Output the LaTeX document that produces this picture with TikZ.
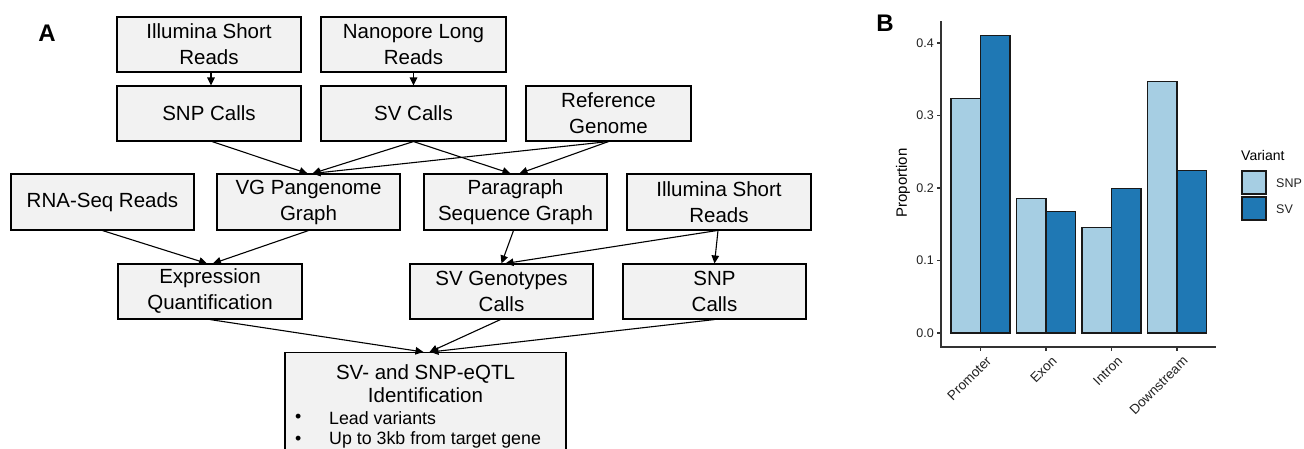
\documentclass[tikz,border=0pt]{standalone}
\usepackage{fontspec}
\setmainfont{Liberation Sans}
\usetikzlibrary{arrows.meta}
\definecolor{boxfill}{HTML}{F2F2F2}
\definecolor{snpc}{HTML}{A6CEE3}
\definecolor{svc}{HTML}{1F78B4}
\definecolor{axc}{HTML}{333333}
\definecolor{txc}{HTML}{222222}
\begin{document}
\begin{tikzpicture}[x=1pt,y=-1pt,
  flowbox/.style={draw=black, line width=1.1pt, fill=boxfill, inner sep=0pt, align=center,
    minimum width=184pt, minimum height=55pt, font=\fontsize{20.5}{26}\selectfont},
  conn/.style={line width=1.1pt, -{Triangle[length=8pt,width=7.5pt]}},
  bartile/.style={draw=black!90, line width=1.2pt},
  axline/.style={draw=axc, line width=1.3pt},
  ticklab/.style={font=\fontsize{12.5}{14}\selectfont, text=txc, inner sep=0pt},
  panlab/.style={font=\fontsize{24}{28}\selectfont\bfseries, inner sep=0pt},
  bodytext/.style={font=\fontsize{20.5}{23}\selectfont, inner sep=0pt, align=center},
  bullettext/.style={font=\fontsize{17.8}{22}\selectfont, inner sep=0pt, anchor=west}
]
\clip (0,0) rectangle (1304,448);
\fill[white] (0,0) rectangle (1304,448);

% ---------------- Panel A ----------------
\node[panlab] (labA) at (47,33) {A};

\node[flowbox] (ill1) at (209,44.5) {Illumina Short\\Reads};
\node[flowbox, minimum width=185pt] (nano) at (413.5,44.5) {Nanopore Long\\Reads};
\node[flowbox] (snp1) at (209,113.5) {SNP Calls};
\node[flowbox, minimum width=185pt] (sv1) at (413.5,113.5) {SV Calls};
\node[flowbox, minimum width=165pt] (ref) at (608.5,113.5) {Reference\\Genome};

\node[flowbox, minimum width=183pt, minimum height=56pt] (rna) at (102.5,202) {RNA-Seq Reads};
\node[flowbox, minimum width=183pt, minimum height=56pt] (vg) at (308.5,202) {VG Pangenome\\Graph};
\node[flowbox, minimum width=183pt, minimum height=56pt] (para) at (515.5,202) {Paragraph\\Sequence Graph};
\node[flowbox, minimum height=56pt] (ill2) at (719,202) {Illumina Short\\Reads};

\node[flowbox] (expr) at (210,291.5) {Expression\\Quantification};
\node[flowbox, minimum width=183pt] (svg) at (501.5,291.5) {SV Genotypes\\Calls};
\node[flowbox, minimum width=183pt] (snp2) at (714.5,291.5) {SNP\\Calls};

\node[flowbox, anchor=north, minimum width=281pt, minimum height=130pt] (eqtl) at (425.5,352) {};
\node[bodytext] (eqtlT) at (425.5,383.5) {SV- and SNP-eQTL\\Identification};
\node[bullettext] (bul1) at (295,418) {•};
\node[bullettext] (it1) at (329,418) {Lead variants};
\node[bullettext] (bul2) at (295,440) {•};
\node[bullettext] (it2) at (329,440) {Up to 3kb from target gene};

\draw[conn] ([xshift=2pt]ill1.south) -- ([xshift=2pt]snp1.north);
\draw[conn] (nano.south) -- (sv1.north);
\draw[conn] ([xshift=3pt]snp1.south) -- ([xshift=-1pt]vg.north);
\draw[conn] (sv1.south) -- ([xshift=4pt]vg.north);
\draw[conn] (ref.south) -- ([xshift=4pt]vg.north);
\draw[conn] (sv1.south) -- ([xshift=-5pt]para.north);
\draw[conn] (ref.south) -- ([xshift=4pt]para.north);
\draw[conn] (rna.south) -- ([xshift=-3pt]expr.north);
\draw[conn] (vg.south) -- ([xshift=3pt]expr.north);
\draw[conn] ([xshift=-2pt]para.south) -- ([xshift=0pt]svg.north);
\draw[conn] ([xshift=-2pt]ill2.south) -- ([xshift=4pt]svg.north);
\draw[conn] ([xshift=-1pt]ill2.south) -- ([xshift=0pt]snp2.north);
\draw[conn] (expr.south) -- ([xshift=-2pt]eqtl.north);
\draw[conn] ([xshift=-1pt]svg.south) -- ([xshift=4pt]eqtl.north);
\draw[conn] (snp2.south) -- ([xshift=5pt]eqtl.north);

% ---------------- Panel B ----------------
\node[panlab] (labB) at (885,23) {B};

% bars
\foreach \c/\a/\b in {980.5/0.324/0.410, 1046/0.185/0.168, 1111.5/0.145/0.199, 1177/0.347/0.224}{
  \draw[bartile, fill=snpc] ({\c-29.5},333) rectangle (\c,{333-725*\a});
  \draw[bartile, fill=svc] (\c,333) rectangle ({\c+29.5},{333-725*\b});
}

% axes
\draw[axline] (941,21) -- (941,347.6);
\draw[axline] (940.4,347) -- (1216,347);
\foreach \v/\t in {0/0.0,1/0.1,2/0.2,3/0.3,4/0.4}{
  \draw[axline] (937,{333-72.5*\v}) -- (941,{333-72.5*\v});
  \node[ticklab, anchor=east] at (934,{333-72.5*\v}) {\t};
}
\foreach \c/\t in {980.5/Promoter, 1046/Exon, 1111.5/Intron, 1177/Downstream}{
  \draw[axline] (\c,347) -- (\c,351);
  \node[ticklab, anchor=north east, rotate=45, font=\fontsize{13.5}{15}\selectfont] at ({\c+5},355) {\t};
}
\node[font=\fontsize{15}{17}\selectfont, rotate=90, inner sep=0pt, text=black] (ylab) at (903,183) {Proportion};

% legend
\node[font=\fontsize{14}{16}\selectfont, anchor=west, inner sep=0pt] (legT) at (1241,155) {Variant};
\draw[bartile, fill=snpc] (1242,171) rectangle (1266,194);
\draw[bartile, fill=svc] (1242,197) rectangle (1266,220);
\node[ticklab, anchor=west] (legSNP) at (1276,183) {SNP};
\node[ticklab, anchor=west] (legSV) at (1276,209) {SV};
\end{tikzpicture}
\end{document}
